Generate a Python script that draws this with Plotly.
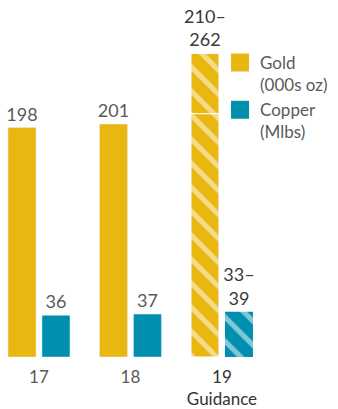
import plotly.graph_objects as go

categories = ["17", "18", "19<br>Guidance"]
tick_labels = ["17", "18", "<span style='color:#333333'>19<br>Guidance</span>"]
gold_actual = [198, 201]
copper_actual = [36, 37]
gold_guidance = [210, 262]
copper_guidance = [33, 39]

GOLD = "#E8B710"
COPPER = "#008FAF"
TEXT = "#5a5a5a"
DARK = "#3a3a3a"
FONT = "Lato"

pattern = dict(shape="\\", fgcolor="white", fillmode="overlay", size=17, solidity=0.3)

fig = go.Figure()
fig.add_trace(go.Bar(
    x=categories[:2], y=gold_actual, offsetgroup="gold", marker_color=GOLD,
    text=[str(v) for v in gold_actual], textposition="outside", constraintext="none",
    textfont=dict(color=TEXT, size=18), showlegend=False, cliponaxis=False))
fig.add_trace(go.Bar(
    x=categories[2:], y=[gold_guidance[0]], offsetgroup="gold",
    marker=dict(color=GOLD, pattern=pattern, line=dict(color="white", width=1)),
    showlegend=False))
fig.add_trace(go.Bar(
    x=categories[2:], y=[gold_guidance[1] - gold_guidance[0]], base=[gold_guidance[0]],
    offsetgroup="gold",
    marker=dict(color=GOLD, pattern=pattern, line=dict(color="white", width=1)),
    text=[f"{gold_guidance[0]}–<br>{gold_guidance[1]}"], textposition="outside",
    constraintext="none",
    textfont=dict(color=DARK, size=18), showlegend=False, cliponaxis=False))
fig.add_trace(go.Bar(
    x=categories[:2], y=copper_actual, offsetgroup="copper", marker_color=COPPER,
    text=[str(v) for v in copper_actual], textposition="outside", constraintext="none",
    textfont=dict(color=TEXT, size=18), showlegend=False, cliponaxis=False))
fig.add_trace(go.Bar(
    x=categories[2:], y=[copper_guidance[1]], offsetgroup="copper",
    marker=dict(color=COPPER, pattern=pattern, line=dict(color="white", width=0)),
    text=[f"{copper_guidance[0]}–<br>{copper_guidance[1]}"], textposition="outside",
    constraintext="none",
    textfont=dict(color=DARK, size=18), showlegend=False, cliponaxis=False))

# legend entries
fig.add_trace(go.Scatter(x=[None], y=[None], mode="markers", name="Gold<br>(000s oz)",
    marker=dict(symbol="square", size=16, color=GOLD, line=dict(color=GOLD, width=2))))
fig.add_trace(go.Scatter(x=[None], y=[None], mode="markers", name="Copper<br>(Mlbs)",
    marker=dict(symbol="square", size=16, color=COPPER, line=dict(color=COPPER, width=2))))

fig.update_layout(
    width=338, height=409,
    margin=dict(l=0, r=0, t=20, b=49),
    paper_bgcolor="white", plot_bgcolor="white",
    font=dict(family=FONT, color=TEXT, size=17),
    barmode="group", bargap=0.257, bargroupgap=0.176,
    showlegend=True,
    legend=dict(x=0.651, xanchor="left", y=0.926, yanchor="top", valign="top",
                font=dict(size=17, color=TEXT), bgcolor="rgba(0,0,0,0)",
                tracegroupgap=4),
    xaxis=dict(type="category", categoryorder="array", categoryarray=categories,
               tickmode="array", tickvals=categories, ticktext=tick_labels,
               range=[-0.426, 3.268], showgrid=False, zeroline=False, showline=False,
               ticks="", ticklabelstandoff=8, tickfont=dict(size=17, color=TEXT)),
    yaxis=dict(range=[0, 290.8], visible=False),
)

fig.write_html("out.html", config={"displayModeBar": False},
               post_script="document.body.style.margin='0';")
